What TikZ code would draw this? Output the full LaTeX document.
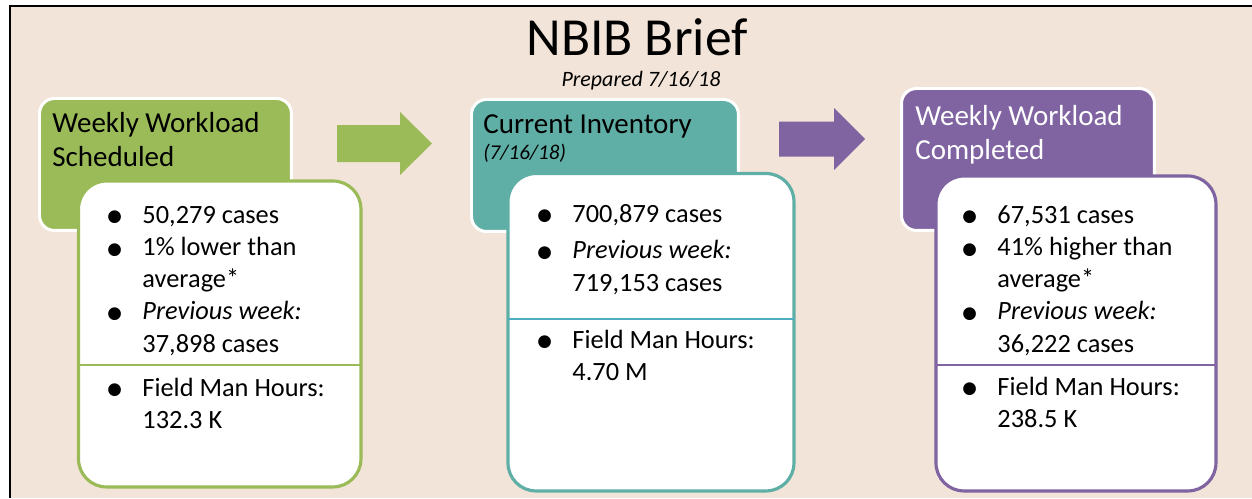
\documentclass[tikz,border=0pt]{standalone}
\usepackage{fontspec}
\setmainfont{Carlito}
\newfontfamily\dotfont{DejaVu Sans}

\definecolor{bgbeige}{RGB}{242,228,216}
\definecolor{wkgreen}{RGB}{155,187,89}
\definecolor{invteal}{RGB}{95,175,166}
\definecolor{invblue}{RGB}{80,172,192}
\definecolor{donepurple}{RGB}{128,100,162}

% big round bullet in front of each list item
\newcommand\bul{\makebox[20pt][l]{\raisebox{.05em}{\dotfont\fontsize{9.5}{10}\selectfont ●}}}

\begin{document}
\begin{tikzpicture}[x=0.02cm,y=-0.02cm,
  headbox/.style={draw=white,line width=1.7pt,rounded corners=0.3cm,inner sep=0,outer sep=0,anchor=north west},
  bodybox/.style={fill=white,line width=1.8pt,rounded corners=0.56cm,inner sep=0,outer sep=0,anchor=north west},
  headtext/.style={anchor=base west,inner sep=0,font=\fontsize{16.5}{19.9}\selectfont},
  listtext/.style={anchor=base west,inner sep=0,font=\fontsize{15}{18.4}\selectfont}]
  \useasboundingbox (0,0) rectangle (1252,498);

  % page and frame
  \fill [white] (0,0) rectangle (1252,498);
  \fill [bgbeige] (10,6) rectangle (1252,498);
  \draw [line width=1.4pt] (10,498) -- (10,6) -- (1252,6);

  \node [font=\fontsize{30.5}{36}\selectfont,anchor=base,inner sep=0] (title) at (637,55) {NBIB Brief};
  \node [font=\fontsize{12.5}{15}\selectfont\itshape,anchor=base,inner sep=0] (prepared) at (641,86) {Prepared 7/16/18};

  % coloured heading tabs
  \node [headbox,fill=wkgreen,minimum width=5.04cm,minimum height=2.64cm] (schedhead) at (39.5,98.5) {};
  \node [headbox,fill=invteal,minimum width=5.34cm,minimum height=2.64cm] (invhead) at (471.5,99.5) {};
  \node [headbox,fill=donepurple,minimum width=5.06cm,minimum height=2.84cm] (donehead) at (901.5,88.5) {};

  % white cards on top
  \node [bodybox,draw=wkgreen,minimum width=5.65cm,minimum height=6.12cm] (schedbody) at (78.5,181) {};
  \node [bodybox,draw=invteal,minimum width=5.72cm,minimum height=6.35cm] (invbody) at (508,173.5) {};
  \node [bodybox,draw=donepurple,minimum width=5.6cm,minimum height=6.3cm] (donebody) at (936,176) {};

  \draw [wkgreen,line width=1.6pt] (schedbody.west |- 0,365) -- (schedbody.east |- 0,365);
  \draw [invblue,line width=1.6pt] (invbody.west |- 0,319) -- (invbody.east |- 0,319);
  \draw [donepurple,line width=1.6pt] (donebody.west |- 0,365) -- (donebody.east |- 0,365);

  % block arrows
  \fill [wkgreen] (337,125) -- (400,125) -- (400,112) -- (432,143.5) -- (400,175) -- (400,162) -- (337,162) -- cycle;
  \fill [donepurple] (779,121.5) -- (834,121.5) -- (834,108) -- (865,139) -- (834,170) -- (834,156.5) -- (779,156.5) -- cycle;

  % headings
  \node [headtext] (schedtitle) at (52,132) {\begin{tabular}[t]{@{}l@{}}Weekly Workload\\Scheduled\end{tabular}};
  \node [headtext] (invtitle) at (483,133) {\begin{tabular}[t]{@{}l@{}}Current Inventory\\[-4.6pt]{\itshape\fontsize{12}{14}\selectfont (7/16/18)}\end{tabular}};
  \node [headtext,text=white] (donetitle) at (915,125) {\begin{tabular}[t]{@{}l@{}}Weekly Workload\\Completed\end{tabular}};

  % card contents
  \node [listtext] (schedtop) at (107,223) {\begin{tabular}[t]{@{}l@{}l@{}}
    \bul & 50,279 cases\\
    \bul & 1\% lower than\\
         & average*\\
    \bul & \textit{Previous week:}\\
         & 37,898 cases
  \end{tabular}};
  \node [listtext] (schedlow) at (107,396) {\begin{tabular}[t]{@{}l@{}l@{}}
    \bul & Field Man Hours:\\
         & 132.3 K
  \end{tabular}};

  \node [listtext] (invtop) at (537,222) {\begin{tabular}[t]{@{}l@{}l@{}}
    \bul & 700,879 cases\\[2.6pt]
    \bul & \textit{Previous week:}\\
         & 719,153 cases
  \end{tabular}};
  \node [listtext] (invlow) at (537,348) {\begin{tabular}[t]{@{}l@{}l@{}}
    \bul & Field Man Hours:\\
         & 4.70 M
  \end{tabular}};

  \node [listtext] (donetop) at (962,223) {\begin{tabular}[t]{@{}l@{}l@{}}
    \bul & 67,531 cases\\
    \bul & 41\% higher than\\
         & average*\\
    \bul & \textit{Previous week:}\\
         & 36,222 cases
  \end{tabular}};
  \node [listtext] (donelow) at (962,395) {\begin{tabular}[t]{@{}l@{}l@{}}
    \bul & Field Man Hours:\\
         & 238.5 K
  \end{tabular}};
\end{tikzpicture}
\end{document}
